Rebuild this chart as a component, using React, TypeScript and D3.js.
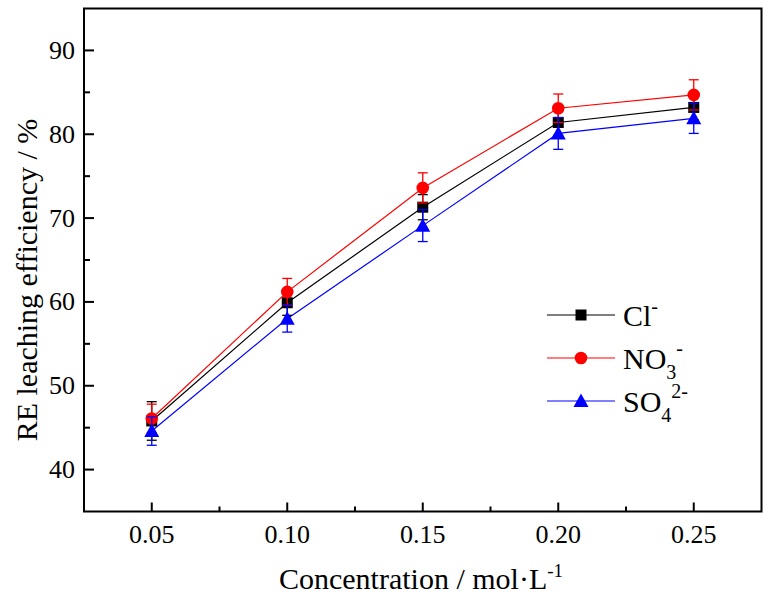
import React from "react";
import * as d3 from "d3";

const concentrations = [0.05, 0.1, 0.15, 0.2, 0.25];
const clValues = [45.8, 59.9, 71.3, 81.4, 83.2];
const no3Values = [46.1, 61.2, 73.6, 83.1, 84.7];
const so4Values = [44.6, 58.0, 69.1, 80.1, 81.9];
const clErrors = [2.3, 1.5, 1.5, 1.5, 1.5];
const no3Errors = [1.7, 1.6, 1.8, 1.7, 1.8];
const so4Errors = [1.7, 1.6, 1.9, 1.9, 1.8];
const xTicks = [0.05, 0.1, 0.15, 0.2, 0.25];
const xMinorTicks = [0.075, 0.125, 0.175, 0.225];
const yTicks = [40, 50, 60, 70, 80, 90];
const yMinorTicks = [45, 55, 65, 75, 85];

const W = 765;
const H = 595;
const left = 84;
const right = 761.5;
const top = 8.5;
const bottom = 511.5;

const font = "'Liberation Serif', 'Times New Roman', serif";

type Series = {
  key: string;
  values: number[];
  errors: number[];
  color: string;
  marker: "square" | "circle" | "triangle";
};

const series: Series[] = [
  { key: "Cl", values: clValues, errors: clErrors, color: "#000000", marker: "square" },
  { key: "NO3", values: no3Values, errors: no3Errors, color: "#ff0000", marker: "circle" },
  { key: "SO4", values: so4Values, errors: so4Errors, color: "#0000ff", marker: "triangle" },
];

function Marker({ type, x, y, color }: { type: string; x: number; y: number; color: string }) {
  if (type === "square") {
    return <rect x={x - 5.5} y={y - 5.5} width={11} height={11} fill={color} />;
  }
  if (type === "circle") {
    return <circle cx={x} cy={y} r={6.3} fill={color} />;
  }
  return (
    <path
      d={`M${x},${y - 7.5} L${x + 7.5},${y + 6} L${x - 7.5},${y + 6} Z`}
      fill={color}
    />
  );
}

export default function App() {
  const xScale = d3.scaleLinear().domain([0.025, 0.275]).range([left, right]);
  const yScale = d3.scaleLinear().domain([35, 95]).range([bottom, top]);

  const line = d3
    .line<number>()
    .x((_, i) => xScale(concentrations[i]))
    .y((d) => yScale(d));

  const legendX1 = 547;
  const legendX2 = 615;
  const legendRows = [315, 358, 401];

  return (
    <svg width={W} height={H} style={{ position: "absolute", left: 0, top: 0 }}>
      <rect x={0} y={0} width={W} height={H} fill="#fff" />
      {series.map((s) => (
        <g key={s.key}>
          <path d={line(s.values) || ""} fill="none" stroke={s.color} strokeWidth={1.2} />
        </g>
      ))}
      {series.map((s) => (
        <g key={s.key + "e"}>
          {s.values.map((v, i) => {
            const x = xScale(concentrations[i]);
            const y1 = yScale(v + s.errors[i]);
            const y2 = yScale(v - s.errors[i]);
            return (
              <g key={i} stroke={s.color} strokeWidth={1.3}>
                <line x1={x} x2={x} y1={y1} y2={y2} />
                <line x1={x - 5} x2={x + 5} y1={y1} y2={y1} />
                <line x1={x - 5} x2={x + 5} y1={y2} y2={y2} />
              </g>
            );
          })}
          {s.values.map((v, i) => (
            <Marker key={i} type={s.marker} x={xScale(concentrations[i])} y={yScale(v)} color={s.color} />
          ))}
        </g>
      ))}
      <rect x={left} y={top} width={right - left} height={bottom - top} fill="none" stroke="#000" strokeWidth={2} />
      {yTicks.map((t) => (
        <g key={t}>
          <line x1={left} x2={left + 10} y1={yScale(t)} y2={yScale(t)} stroke="#000" strokeWidth={2} />
          <text x={75} y={yScale(t) + 8.5} textAnchor="end" fontFamily={font} fontSize={26}>
            {t}
          </text>
        </g>
      ))}
      {yMinorTicks.map((t) => (
        <line key={t} x1={left} x2={left + 6} y1={yScale(t)} y2={yScale(t)} stroke="#000" strokeWidth={2} />
      ))}
      {xTicks.map((t) => (
        <g key={t}>
          <line x1={xScale(t)} x2={xScale(t)} y1={bottom} y2={bottom - 9} stroke="#000" strokeWidth={2} />
          <text x={xScale(t)} y={543} textAnchor="middle" fontFamily={font} fontSize={26}>
            {d3.format(".2f")(t)}
          </text>
        </g>
      ))}
      {xMinorTicks.map((t) => (
        <line key={t} x1={xScale(t)} x2={xScale(t)} y1={bottom} y2={bottom - 5} stroke="#000" strokeWidth={2} />
      ))}
      <text x={421} y={589} textAnchor="middle" fontFamily={font} fontSize={30}>
        Concentration / mol·L<tspan dy={-12} fontSize={19}>-1</tspan>
      </text>
      <text
        transform="translate(37,280) rotate(-90)"
        textAnchor="middle"
        fontFamily={font}
        fontSize={30}
      >
        RE leaching efficiency / %
      </text>
      {series.map((s, i) => (
        <g key={s.key + "l"}>
          <line x1={legendX1} x2={legendX2} y1={legendRows[i]} y2={legendRows[i]} stroke={s.color} strokeWidth={1.2} />
          <Marker type={s.marker} x={(legendX1 + legendX2) / 2} y={legendRows[i]} color={s.color} />
        </g>
      ))}
      <text x={623} y={legendRows[0] + 11} fontFamily={font} fontSize={30}>
        Cl<tspan dy={-13} fontSize={20}>-</tspan>
      </text>
      <text x={623} y={legendRows[1] + 11} fontFamily={font} fontSize={30}>
        NO<tspan dy={10} fontSize={20}>3</tspan>
        <tspan dy={-24} fontSize={20}>-</tspan>
      </text>
      <text x={623} y={legendRows[2] + 11} fontFamily={font} fontSize={30}>
        SO<tspan dy={10} fontSize={20}>4</tspan>
        <tspan dy={-24} fontSize={20}>2-</tspan>
      </text>
    </svg>
  );
}
